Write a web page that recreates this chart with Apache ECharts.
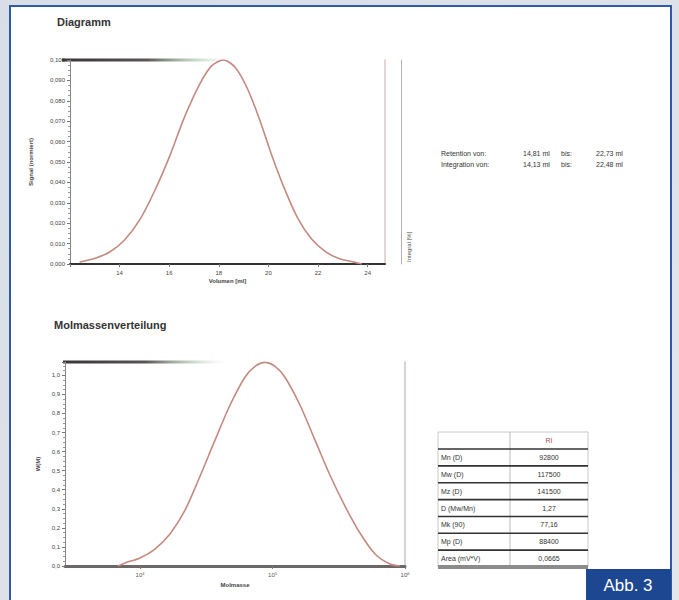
<!DOCTYPE html>
<html><head><meta charset="utf-8">
<script src="https://cdn.jsdelivr.net/npm/echarts@6/dist/echarts.min.js"></script>
<style>html,body{margin:0;padding:0;background:#e3e7ec}#c{width:679px;height:600px}</style>
</head><body><div id="c"></div>
<script>
// ---- data ----
const elutionVolume = [12.39, 12.99, 13.60, 14.20, 14.81, 15.41, 16.02, 16.62, 17.23, 17.71, 18.19, 18.68, 19.16, 19.65, 20.13, 20.65, 21.18, 21.74, 22.31, 22.87, 23.35, 23.76];
const detectorSignal = [0.0010, 0.0027, 0.0059, 0.0118, 0.0216, 0.0358, 0.0529, 0.0721, 0.0882, 0.0971, 0.1000, 0.0961, 0.0858, 0.0706, 0.0534, 0.0368, 0.0225, 0.0122, 0.0059, 0.0026, 0.0012, 0.0000];
const logMolarMass = [3.834, 3.887, 4.000, 4.113, 4.226, 4.340, 4.453, 4.566, 4.679, 4.792, 4.868, 4.943, 5.019, 5.094, 5.208, 5.321, 5.434, 5.547, 5.660, 5.774, 5.887, 5.962];
const massFraction = [0.000, 0.016, 0.042, 0.089, 0.168, 0.293, 0.471, 0.660, 0.843, 0.990, 1.047, 1.068, 1.047, 0.990, 0.843, 0.660, 0.476, 0.314, 0.173, 0.063, 0.010, 0.000];
const volumeTicks = [14, 16, 18, 20, 22, 24];
const massTicks = [4, 5, 6];
const rangeLabels = ['Retention von:', 'Integration von:'];
const rangeFrom = ['14,81 ml', '14,13 ml'];
const rangeTo = ['22,73 ml', '22,48 ml'];
const tableHeader = 'RI';
const tableLabels = ['Mn (D)', 'Mw (D)', 'Mz (D)', 'D (Mw/Mn)', 'Mk (90)', 'Mp (D)', 'Area (mV*V)'];
const tableValues = ['92800', '117500', '141500', '1,27', '77,16', '88400', '0,0665'];

// ---- chart ----
const chart = echarts.init(document.getElementById('c'), null, {renderer: 'svg'});
const curveColor = '#c48a80';
const FONT = 'Liberation Sans, Arial, sans-serif';
const lab = {fontSize: 6, color: '#444', fontFamily: FONT};

const g = [];
// page background and frame
g.push({type: 'rect', z: -10, shape: {x: 0, y: 0, width: 679, height: 600},
  style: {fill: new echarts.graphic.LinearGradient(0, 0, 1, 1, [{offset: 0, color: '#d7dee7'}, {offset: 1, color: '#e4e6ea'}])}, silent: true});
g.push({type: 'rect', z: -9, shape: {x: 10, y: 6, width: 661, height: 600},
  style: {fill: '#ffffff', stroke: '#2f5aa8', lineWidth: 2}, silent: true});
// titles
g.push({type: 'text', x: 57, y: 16, style: {text: 'Diagramm', fontSize: 11, fontWeight: 'bold', fill: '#333', fontFamily: FONT}});
g.push({type: 'text', x: 54, y: 319, style: {text: 'Molmassenverteilung', fontSize: 11, fontWeight: 'bold', fill: '#333', fontFamily: FONT}});
// fading top borders of the plots
const fade = () => new echarts.graphic.LinearGradient(0, 0, 1, 0, [
  {offset: 0, color: '#3a3636'}, {offset: 0.5, color: '#5a5454'}, {offset: 0.8, color: 'rgba(170,200,170,0.6)'}, {offset: 1, color: 'rgba(220,235,220,0)'}]);
g.push({type: 'rect', shape: {x: 62, y: 58.5, width: 170, height: 3}, style: {fill: fade()}});
g.push({type: 'rect', shape: {x: 63, y: 360.5, width: 165, height: 3}, style: {fill: fade()}});
// right-hand auxiliary axis text (top chart)
g.push({type: 'text', x: 406, y: 262, rotation: Math.PI / 2,
  style: {text: 'Integral [%]', fontSize: 6, fill: '#555', fontFamily: FONT, align: 'left', verticalAlign: 'top'}});
g.push({type: 'rect', shape: {x: 404, y: 497, width: 2, height: 69}, style: {fill: '#8a8585'}});
// range text block
rangeLabels.forEach((t, i) => {
  const y = 153 + i * 11;
  g.push({type: 'text', x: 441, y, style: {text: t, fontSize: 7, fill: '#333', fontFamily: FONT, verticalAlign: 'middle'}});
  g.push({type: 'text', x: 523, y, style: {text: rangeFrom[i], fontSize: 7, fill: '#333', fontFamily: FONT, verticalAlign: 'middle'}});
  g.push({type: 'text', x: 561, y, style: {text: 'bis:', fontSize: 7, fill: '#333', fontFamily: FONT, verticalAlign: 'middle'}});
  g.push({type: 'text', x: 596, y, style: {text: rangeTo[i], fontSize: 7, fill: '#333', fontFamily: FONT, verticalAlign: 'middle'}});
});
// result table
const tx0 = 438, tx1 = 588, tsplit = 510, ttop = 432, rtop = 449, rh = 16.86;
const tbottom = rtop + rh * tableLabels.length;
g.push({type: 'rect', shape: {x: tx0, y: ttop, width: tx1 - tx0, height: tbottom - ttop}, style: {fill: '#fff', stroke: '#c8c8c8', lineWidth: 1}});
g.push({type: 'line', shape: {x1: tsplit, y1: ttop, x2: tsplit, y2: tbottom}, style: {stroke: '#bbb', lineWidth: 1}});
g.push({type: 'text', x: (tsplit + tx1) / 2, y: (ttop + rtop) / 2, style: {text: tableHeader, fontSize: 7, fill: '#b05050', fontFamily: FONT, align: 'center', verticalAlign: 'middle'}});
tableLabels.forEach((t, i) => {
  const y0 = rtop + i * rh;
  g.push({type: 'line', shape: {x1: tx0, y1: y0, x2: tx1, y2: y0}, style: {stroke: '#333', lineWidth: 1.6}});
  g.push({type: 'text', x: tx0 + 3, y: y0 + rh / 2, style: {text: t, fontSize: 7, fill: '#333', fontFamily: FONT, verticalAlign: 'middle'}});
  g.push({type: 'text', x: (tsplit + tx1) / 2, y: y0 + rh / 2, style: {text: tableValues[i], fontSize: 7, fill: '#333', fontFamily: FONT, align: 'center', verticalAlign: 'middle'}});
});
g.push({type: 'rect', shape: {x: tx0, y: tbottom - 2, width: tx1 - tx0, height: 4}, style: {fill: '#8c8c8c'}});
// figure label
g.push({type: 'rect', shape: {x: 586, y: 569, width: 85, height: 31}, style: {fill: '#1d4791'}});
g.push({type: 'text', x: 628, y: 585, style: {text: 'Abb. 3', fontSize: 17, fill: '#fff', fontFamily: 'Liberation Sans Narrow, Liberation Sans, Arial, sans-serif', align: 'center', verticalAlign: 'middle'}});

const option = {
  animation: false,
  graphic: g,
  grid: [
    {left: 70, top: 60, width: 315, height: 204},
    {left: 65, top: 362, width: 340, height: 204}
  ],
  xAxis: [
    {gridIndex: 0, type: 'value', min: 12, max: 24.7,
      name: 'Volumen [ml]', nameLocation: 'middle', nameGap: 14,
      nameTextStyle: {fontSize: 6, fontWeight: 'bold', color: '#444', fontFamily: FONT},
      axisLine: {lineStyle: {color: '#333', width: 2}},
      axisTick: {customValues: [12].concat(volumeTicks), length: 3, lineStyle: {color: '#777'}},
      axisLabel: Object.assign({customValues: volumeTicks, margin: 6}, lab),
      splitLine: {show: false}},
    {gridIndex: 1, type: 'value', min: 3.434, max: 6,
      name: 'Molmasse', nameLocation: 'middle', nameGap: 16,
      nameTextStyle: {fontSize: 6, fontWeight: 'bold', color: '#444', fontFamily: FONT},
      axisLine: {lineStyle: {color: '#6e6767', width: 3}},
      axisTick: {customValues: massTicks, length: 3, lineStyle: {color: '#777'}},
      axisLabel: {customValues: massTicks, margin: 5, fontFamily: FONT,
        formatter: v => '{b|10}{s|' + Math.round(v) + '}',
        rich: {b: {fontSize: 6, color: '#555'}, s: {fontSize: 4, color: '#555', verticalAlign: 'top', padding: [0, 0, 4, 0]}}},
      splitLine: {show: false}}
  ],
  yAxis: [
    {gridIndex: 0, type: 'value', min: 0, max: 0.1, interval: 0.01,
      name: 'Signal (normiert)', nameLocation: 'middle', nameGap: 36,
      nameTextStyle: {fontSize: 6, fontWeight: 'bold', color: '#444', fontFamily: FONT},
      axisLine: {show: true, lineStyle: {color: '#888', width: 1}},
      axisTick: {length: 3, lineStyle: {color: '#777'}},
      minorTick: {show: true, splitNumber: 4, length: 2, lineStyle: {color: '#999'}},
      axisLabel: Object.assign({margin: 5, formatter: v => v.toFixed(3).replace('.', ',')}, lab),
      splitLine: {show: false}},
    {gridIndex: 0, type: 'value', position: 'right', min: 0, max: 1,
      axisLine: {show: true, lineStyle: {color: '#dcc9c6', width: 1.5}},
      axisTick: {show: false}, axisLabel: {show: false}, splitLine: {show: false}},
    {gridIndex: 0, type: 'value', position: 'right', offset: 16, min: 0, max: 1,
      axisLine: {show: true, lineStyle: {color: '#b5b0b0', width: 1}},
      axisTick: {show: false}, axisLabel: {show: false}, splitLine: {show: false}},
    {gridIndex: 1, type: 'value', min: 0, max: 1.07, interval: 0.1,
      name: 'W(M)', nameLocation: 'middle', nameGap: 24,
      nameTextStyle: {fontSize: 6, fontWeight: 'bold', color: '#444', fontFamily: FONT},
      axisLine: {show: true, lineStyle: {color: '#888', width: 1}},
      axisTick: {length: 3, lineStyle: {color: '#777'}},
      minorTick: {show: true, splitNumber: 4, length: 2, lineStyle: {color: '#999'}},
      axisLabel: Object.assign({margin: 5, showMaxLabel: false, formatter: v => v.toFixed(1).replace('.', ',')}, lab),
      splitLine: {show: false}},
    {gridIndex: 1, type: 'value', position: 'right', min: 0, max: 1,
      axisLine: {show: true, lineStyle: {color: '#d8d2d2', width: 2}},
      axisTick: {show: false}, axisLabel: {show: false}, splitLine: {show: false}}
  ],
  series: [
    {type: 'line', xAxisIndex: 0, yAxisIndex: 0, smooth: 0.3, symbol: 'none',
      lineStyle: {color: curveColor, width: 1.6},
      data: elutionVolume.map((v, i) => [v, detectorSignal[i]])},
    {type: 'line', xAxisIndex: 1, yAxisIndex: 3, smooth: 0.3, symbol: 'none',
      lineStyle: {color: curveColor, width: 1.6},
      data: logMolarMass.map((v, i) => [v, massFraction[i]])}
  ]
};
chart.setOption(option);
</script></body></html>
